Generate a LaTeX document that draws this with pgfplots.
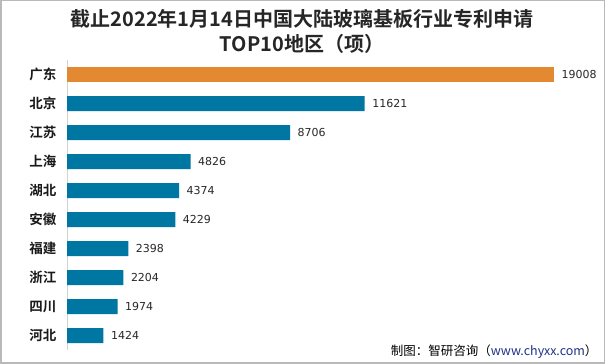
\documentclass[border=0pt]{standalone}
\usepackage{fontspec}
\usepackage{pgfplots}
\pgfplotsset{compat=1.18}
\setmainfont{DejaVu Sans}
\newfontfamily\cjk[BoldFont={Noto Sans CJK SC Bold}]{Noto Sans CJK SC}
\definecolor{barorange}{RGB}{226,137,50}
\definecolor{barblue}{RGB}{0,119,163}
\definecolor{lbl}{RGB}{40,40,40}
\definecolor{urlblue}{RGB}{30,50,140}
\begin{document}
\begin{tikzpicture}
\path[use as bounding box] (0pt,0pt) rectangle (605pt,364pt);
\fill[white] (0pt,0pt) rectangle (605pt,364pt);
\draw[gray!55, line width=1.5pt] (0.75pt,0.75pt) rectangle (604.25pt,363.25pt);
\node[font=\cjk\bfseries\fontsize{20}{25}\selectfont, align=center, text=black!85] at (302pt,333pt) {截止2022年1月14日中国大陆玻璃基板行业专利申请\\TOP10地区（项）};
\begin{axis}[
  at={(67pt,14pt)}, anchor=south west,
  scale only axis, width=487pt, height=290pt,
  xmin=0, xmax=19008,
  ymin=-0.5, ymax=9.5, y dir=reverse,
  xbar, bar width=15pt, bar shift=0pt,
  axis x line=none,
  axis y line*=left,
  y axis line style={gray!35, -, line width=1pt},
  ytick={0,...,9},
  yticklabels={广东,北京,江苏,上海,湖北,安徽,福建,浙江,四川,河北},
  yticklabel style={font=\cjk\bfseries\fontsize{13.5}{14}\selectfont, text=black!90, xshift=-7pt},
  major tick length=0pt,
  nodes near coords,
  nodes near coords style={font=\fontsize{11}{11}\selectfont, text=lbl, anchor=west, xshift=4pt},
  /pgf/number format/assume math mode=true,
  /pgf/number format/1000 sep={},
  clip=false,
]
\addplot[fill=barorange, draw=none] coordinates {(19008,0)};
\addplot[fill=barblue, draw=none] coordinates {(11621,1) (8706,2) (4826,3) (4374,4) (4229,5) (2398,6) (2204,7) (1974,8) (1424,9)};
\end{axis}
\node[anchor=east, font=\cjk\fontsize{12.5}{13}\selectfont] at (601pt,12pt) {制图：智研咨询（\textcolor{urlblue}{www.chyxx.com}）};
\end{tikzpicture}
\end{document}
